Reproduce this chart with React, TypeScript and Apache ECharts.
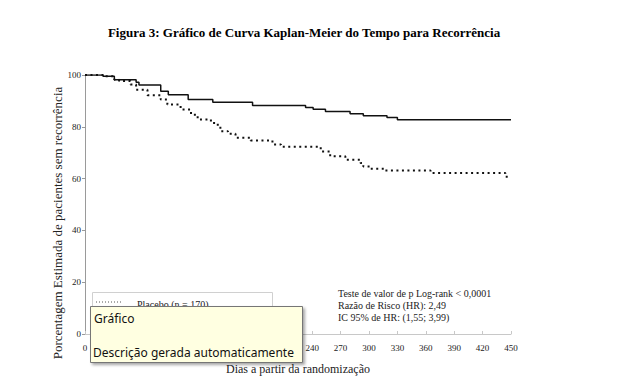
import React, { useEffect, useRef } from "react";
import * as echarts from "echarts";

const titleText = "Figura 3: Gráfico de Curva Kaplan-Meier do Tempo para Recorrência";
const yAxisTitle = "Porcentagem Estimada de pacientes sem recorrência";
const xAxisTitle = "Dias a partir da randomização";
const statLines = [
  "Teste de valor de p Log-rank < 0,0001",
  "Razão de Risco (HR): 2,49",
  "IC 95% de HR: (1,55; 3,99)",
];
const legendLabel = "Placebo (n = 170)";
const tipTitle = "Gráfico";
const tipDesc = "Descrição gerada automaticamente";

// x tick labels hidden behind the overlay box in the reference
const hiddenXTicks = [30, 60, 90, 120, 150, 180, 210];

// Solid curve (treatment)
const solidDays = [0, 19, 31, 54, 57, 80, 88, 109, 135, 177, 233, 241, 254, 280, 294, 319, 330, 450];
const solidVals = [100, 99.5, 98.2, 97.2, 96.1, 93.7, 92.4, 90.5, 89.5, 88.2, 87.5, 86.8, 85.9, 85.0, 84.3, 83.6, 82.7, 82.7];

// Dotted curve (placebo)
const dotDays = [0, 19, 31, 36, 48, 54, 66, 80, 87, 101, 112, 119, 133, 138, 143, 151, 159, 175, 198, 207, 249, 259, 275, 291, 294, 301, 317, 365, 444, 450];
const dotVals = [100, 99.5, 98.2, 97.7, 96.3, 94.3, 92.2, 90.5, 88.6, 86.7, 84.7, 82.8, 81.5, 80.8, 78.3, 77.3, 75.8, 74.7, 73.2, 72.3, 70.5, 68.6, 67.3, 66.0, 64.7, 63.8, 63.1, 62.2, 60.7, 60.7];

const serif = "'Liberation Serif', 'DejaVu Serif', serif";
const sans = "'Noto Sans', 'Open Sans', sans-serif";

export default function App() {
  const ref = useRef<HTMLDivElement>(null);
  useEffect(() => {
    if (!ref.current) return;
    const chart = echarts.init(ref.current, null, { renderer: "svg" });
    chart.setOption({
      animation: false,
      backgroundColor: "#ffffff",
      grid: { left: 85, right: 117, top: 75, bottom: 56 },
      xAxis: {
        type: "value",
        min: 0,
        max: 450,
        interval: 30,
        axisLine: { show: true, lineStyle: { color: "#c8c8c8", width: 1 } },
        axisTick: { show: true, inside: true, length: 3, lineStyle: { color: "#c8c8c8" } },
        splitLine: { show: false },
        axisLabel: {
          fontFamily: serif,
          fontSize: 9,
          color: "#222",
          margin: 9,
          formatter: (v: number) => (hiddenXTicks.includes(v) ? "" : String(v)),
        },
      },
      yAxis: {
        type: "value",
        min: 0,
        max: 100,
        interval: 20,
        axisLine: { show: true, lineStyle: { color: "#9a9a9a", width: 1 } },
        axisTick: { show: true, length: 3, lineStyle: { color: "#9a9a9a" } },
        splitLine: { show: false },
        axisLabel: { fontFamily: serif, fontSize: 9, color: "#222", margin: 4 },
      },
      series: [
        {
          type: "line",
          step: "end",
          symbol: "none",
          data: solidDays.map((d, i) => [d, solidVals[i]]),
          lineStyle: { color: "#111", width: 1.5 },
          z: 3,
        },
        {
          type: "line",
          step: "end",
          symbol: "none",
          data: dotDays.map((d, i) => [d, dotVals[i]]),
          lineStyle: { color: "#111", width: 2, type: [2, 3.5] },
          z: 3,
        },
      ],
      graphic: [
        {
          type: "text",
          x: 304,
          y: 32,
          style: {
            text: titleText,
            fontFamily: serif,
            fontWeight: "bold",
            fontSize: 13,
            fill: "#000",
            align: "center",
            verticalAlign: "middle",
          },
          z: 10,
        },
        {
          type: "text",
          x: 57,
          y: 223,
          rotation: Math.PI / 2,
          style: {
            text: yAxisTitle,
            fontFamily: serif,
            fontSize: 13,
            fill: "#222",
            align: "center",
            verticalAlign: "middle",
          },
          z: 10,
        },
        {
          type: "text",
          x: 298,
          y: 369,
          style: {
            text: xAxisTitle,
            fontFamily: serif,
            fontSize: 12,
            fill: "#222",
            align: "center",
            verticalAlign: "middle",
          },
          z: 10,
        },
        ...statLines.map((t, i) => ({
          type: "text",
          x: 338,
          y: 293 + i * 12,
          style: {
            text: t,
            fontFamily: serif,
            fontSize: 10,
            fill: "#222",
            align: "left",
            verticalAlign: "middle",
          },
          z: 10,
        })),
        {
          type: "rect",
          shape: { x: 92.5, y: 292.5, width: 180, height: 40 },
          style: { fill: "#fff", stroke: "#d0d0d0", lineWidth: 1 },
          z: 10,
        },
        {
          type: "line",
          shape: { x1: 96, y1: 302, x2: 121, y2: 302 },
          style: { stroke: "#555", lineWidth: 1, lineDash: [1, 2] },
          z: 11,
        },
        {
          type: "text",
          x: 137,
          y: 304,
          style: {
            text: legendLabel,
            fontFamily: serif,
            fontSize: 10,
            fill: "#222",
            align: "left",
            verticalAlign: "middle",
          },
          z: 11,
        },
        {
          type: "rect",
          shape: { x: 90.5, y: 306.5, width: 212, height: 56 },
          style: {
            fill: "#ffffe1",
            stroke: "#767676",
            lineWidth: 1,
            shadowBlur: 3,
            shadowOffsetX: 2,
            shadowOffsetY: 2,
            shadowColor: "rgba(0,0,0,0.35)",
          },
          z: 20,
        },
        {
          type: "text",
          x: 94,
          y: 318,
          style: {
            text: tipTitle,
            fontFamily: sans,
            fontSize: 12,
            fill: "#111",
            align: "left",
            verticalAlign: "middle",
          },
          z: 21,
        },
        {
          type: "text",
          x: 93,
          y: 352,
          style: {
            text: tipDesc,
            fontFamily: sans,
            fontSize: 12,
            fill: "#111",
            align: "left",
            verticalAlign: "middle",
          },
          z: 21,
        },
      ],
    });
    return () => chart.dispose();
  }, []);
  return (
    <div
      ref={ref}
      style={{ position: "fixed", left: 0, top: 0, width: 628, height: 390, background: "#fff" }}
    />
  );
}
